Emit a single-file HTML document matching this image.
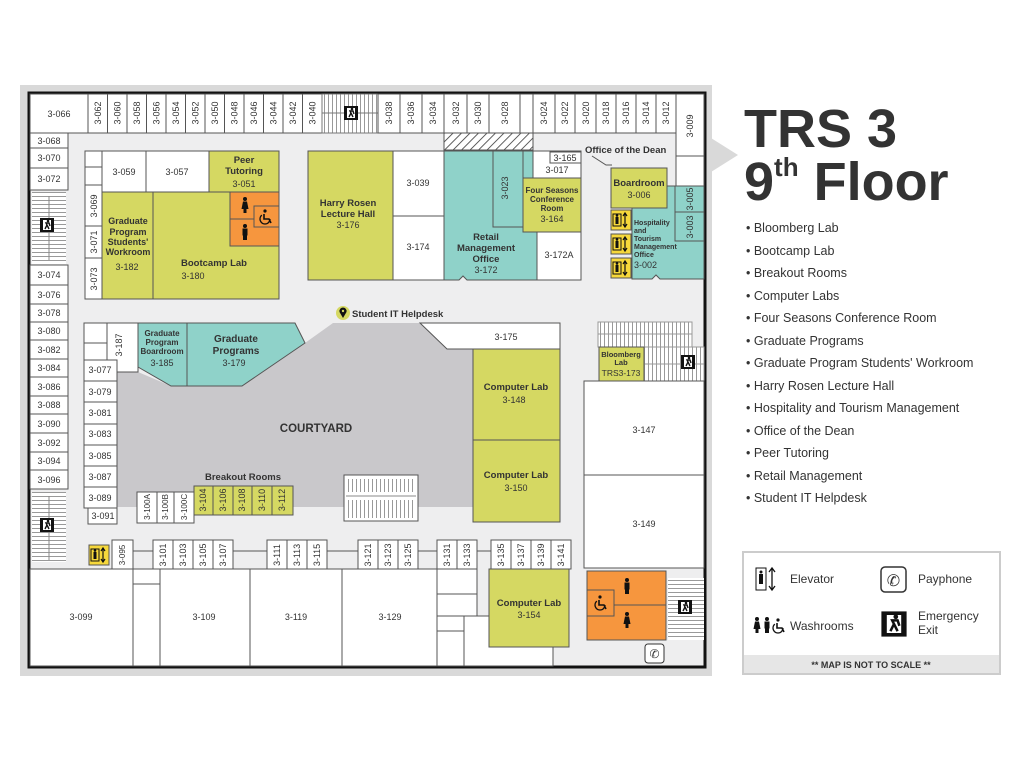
<!DOCTYPE html>
<html><head><meta charset="utf-8"><style>
html,body{margin:0;padding:0;background:#fff;}
svg{display:block;font-family:"Liberation Sans",Arial,sans-serif;}
.r{stroke:#555;stroke-width:1;}
.w{fill:#fff;}.g{fill:#d5d862;}.t{fill:#8fd2c9;}.o{fill:#f6963e;}.y{fill:#f6d83b;}
text{fill:#333;}
.n{font-size:9px;}
.b{font-weight:bold;font-size:9.5px;}
.li{font-size:12.5px;fill:#333;}
</style></head><body>
<svg width="1024" height="768" viewBox="0 0 1024 768" xmlns="http://www.w3.org/2000/svg">
<defs>
<pattern id="hs" width="6" height="4" patternUnits="userSpaceOnUse"><rect width="6" height="4" fill="#fff"/><line x1="0" y1="0.5" x2="6" y2="0.5" stroke="#999" stroke-width="1"/></pattern>
<pattern id="vs" width="4" height="6" patternUnits="userSpaceOnUse"><rect width="4" height="6" fill="#fff"/><line x1="0.5" y1="0" x2="0.5" y2="6" stroke="#999" stroke-width="1"/></pattern>
<pattern id="hatch" width="6" height="6" patternUnits="userSpaceOnUse" patternTransform="rotate(45)"><rect width="6" height="6" fill="#fff"/><line x1="0" y1="0" x2="0" y2="6" stroke="#333" stroke-width="1.6"/></pattern>
<g id="exit"><rect x="-7" y="-7" width="14" height="14" fill="#111"/><rect x="-4" y="-5" width="8" height="10" fill="#fff"/><path d="M-2 4 L0 0 L-1 -2 L2 -2 L3 1 M0 0 L2 4" stroke="#111" stroke-width="1.4" fill="none"/><circle cx="1" cy="-4" r="1.3" fill="#111"/></g>
<g id="elev"><rect x="-10" y="-10" width="20" height="20" fill="#f6d83b" stroke="#555"/><rect x="-8" y="-6" width="8" height="12" fill="none" stroke="#111"/><rect x="-5.5" y="-3" width="3" height="7" fill="#111"/><circle cx="-4" cy="-4.5" r="1.3" fill="#111"/><path d="M4 -7 V7 M2 -4 L4 -7 L6 -4 M2 4 L4 7 L6 4" stroke="#111" fill="none" stroke-width="1.2"/></g>
<g id="man"><circle cx="0" cy="-6" r="2" fill="#111"/><rect x="-2.5" y="-3.5" width="5" height="7" fill="#111"/><rect x="-2" y="3" width="4" height="5" fill="#111"/></g>
<g id="woman"><circle cx="0" cy="-6" r="2" fill="#111"/><path d="M-2 -3.5 H2 L3.5 4 H-3.5 Z" fill="#111"/><rect x="-1.5" y="3" width="3" height="5" fill="#111"/></g>
<g id="wc"><circle cx="-1" cy="-6" r="1.6" fill="#111"/><path d="M-2 -3 V2 H3 L5 6" stroke="#111" stroke-width="1.6" fill="none"/><circle cx="-1" cy="2" r="5" fill="none" stroke="#111" stroke-width="1.3" stroke-dasharray="20 12"/></g>
</defs>

<!-- frame -->
<rect x="20" y="85" width="692" height="591" fill="#d9d9d9"/>
<polygon points="711,138 738,155 711,172" fill="#d9d9d9"/>
<rect x="29" y="93" width="676" height="574" fill="#eeeeef" stroke="#111" stroke-width="3"/>

<!-- top strip -->
<rect class="r w" x="30" y="94" width="58" height="39"/><text class="n" x="59" y="117" text-anchor="middle">3-066</text>
<g class="r w">
<rect x="88" y="94" width="19.5" height="39"/><rect x="107.5" y="94" width="19.5" height="39"/><rect x="127" y="94" width="19.5" height="39"/><rect x="146.5" y="94" width="19.5" height="39"/><rect x="166" y="94" width="19.5" height="39"/><rect x="185.5" y="94" width="19.5" height="39"/><rect x="205" y="94" width="19.5" height="39"/><rect x="224.5" y="94" width="19.5" height="39"/><rect x="244" y="94" width="19.5" height="39"/><rect x="263.5" y="94" width="19.5" height="39"/><rect x="283" y="94" width="19.5" height="39"/><rect x="302.5" y="94" width="19.5" height="39"/>
</g>
<g class="n" text-anchor="middle">
<text transform="translate(101,113) rotate(-90)">3-062</text><text transform="translate(120.5,113) rotate(-90)">3-060</text><text transform="translate(140,113) rotate(-90)">3-058</text><text transform="translate(159.5,113) rotate(-90)">3-056</text><text transform="translate(179,113) rotate(-90)">3-054</text><text transform="translate(198.5,113) rotate(-90)">3-052</text><text transform="translate(218,113) rotate(-90)">3-050</text><text transform="translate(237.5,113) rotate(-90)">3-048</text><text transform="translate(257,113) rotate(-90)">3-046</text><text transform="translate(276.5,113) rotate(-90)">3-044</text><text transform="translate(296,113) rotate(-90)">3-042</text><text transform="translate(315.5,113) rotate(-90)">3-040</text>
</g>
<rect x="322" y="94" width="56" height="39" fill="url(#vs)" stroke="#777"/>
<line x1="322" y1="113" x2="378" y2="113" stroke="#777"/>
<use href="#exit" x="351" y="113"/>
<g class="r w">
<rect x="378" y="94" width="22" height="39"/><rect x="400" y="94" width="22" height="39"/><rect x="422" y="94" width="22" height="39"/><rect x="444" y="94" width="23" height="39"/><rect x="467" y="94" width="22" height="39"/><rect x="489" y="94" width="31" height="39"/><rect x="520" y="94" width="13" height="39"/><rect x="533" y="94" width="22" height="39"/><rect x="555" y="94" width="20" height="39"/><rect x="575" y="94" width="21" height="39"/><rect x="596" y="94" width="20" height="39"/><rect x="616" y="94" width="20" height="39"/><rect x="636" y="94" width="20" height="39"/><rect x="656" y="94" width="20" height="39"/><rect x="676" y="94" width="28" height="62"/>
</g>
<g class="n" text-anchor="middle">
<text transform="translate(392,113) rotate(-90)">3-038</text><text transform="translate(414,113) rotate(-90)">3-036</text><text transform="translate(436,113) rotate(-90)">3-034</text><text transform="translate(459,113) rotate(-90)">3-032</text><text transform="translate(481,113) rotate(-90)">3-030</text><text transform="translate(508,113) rotate(-90)">3-028</text><text transform="translate(547,113) rotate(-90)">3-024</text><text transform="translate(568,113) rotate(-90)">3-022</text><text transform="translate(589,113) rotate(-90)">3-020</text><text transform="translate(609,113) rotate(-90)">3-018</text><text transform="translate(629,113) rotate(-90)">3-016</text><text transform="translate(649,113) rotate(-90)">3-014</text><text transform="translate(669,113) rotate(-90)">3-012</text><text transform="translate(693,126) rotate(-90)">3-009</text>
</g>
<rect x="444" y="133" width="89" height="17" fill="url(#hatch)" stroke="#555"/>

<!-- left column -->
<g class="r w">
<rect x="30" y="133" width="38" height="15"/><rect x="30" y="148" width="38" height="20"/><rect x="30" y="168" width="38" height="22"/>
<rect x="30" y="265" width="38" height="20"/><rect x="30" y="285" width="38" height="19"/><rect x="30" y="304" width="38" height="18"/><rect x="30" y="322" width="38" height="18"/><rect x="30" y="340" width="38" height="19"/><rect x="30" y="359" width="38" height="18"/><rect x="30" y="377" width="38" height="19"/><rect x="30" y="396" width="38" height="18"/><rect x="30" y="414" width="38" height="19"/><rect x="30" y="433" width="38" height="19"/><rect x="30" y="452" width="38" height="18"/><rect x="30" y="470" width="38" height="19"/>
</g>
<g class="n" text-anchor="middle">
<text x="49" y="144">3-068</text><text x="49" y="161">3-070</text><text x="49" y="182">3-072</text><text x="49" y="278">3-074</text><text x="49" y="298">3-076</text><text x="49" y="316">3-078</text><text x="49" y="334">3-080</text><text x="49" y="353">3-082</text><text x="49" y="371">3-084</text><text x="49" y="390">3-086</text><text x="49" y="408">3-088</text><text x="49" y="427">3-090</text><text x="49" y="446">3-092</text><text x="49" y="464">3-094</text><text x="49" y="483">3-096</text>
</g>
<rect x="32" y="192" width="34" height="72" fill="url(#hs)"/><line x1="49" y1="196" x2="49" y2="260" stroke="#888"/>
<use href="#exit" x="47" y="225"/>
<rect x="32" y="492" width="34" height="70" fill="url(#hs)"/><line x1="49" y1="496" x2="49" y2="560" stroke="#888"/>
<use href="#exit" x="47" y="525"/>

<!-- block top-left -->
<g class="r">
<rect class="w" x="85" y="151" width="17" height="16"/><rect class="w" x="85" y="167" width="17" height="18"/>
<rect class="w" x="85" y="185" width="17" height="41"/><rect class="w" x="85" y="226" width="17" height="32"/><rect class="w" x="85" y="258" width="17" height="41"/>
<rect class="w" x="102" y="151" width="44" height="41"/><rect class="w" x="146" y="151" width="63" height="41"/>
<rect class="g" x="209" y="151" width="70" height="41"/>
<rect class="g" x="102" y="192" width="51" height="107"/><rect class="g" x="153" y="192" width="126" height="107"/>
<rect class="o" x="230" y="192" width="49" height="27"/><rect class="o" x="230" y="219" width="49" height="27"/><rect class="o" x="254" y="206" width="25" height="21"/>
</g>
<use href="#woman" x="245" y="205"/><use href="#man" x="245" y="232"/><use href="#wc" x="266" y="217"/>
<g class="n" text-anchor="middle">
<text transform="translate(97,206) rotate(-90)">3-069</text><text transform="translate(97,242) rotate(-90)">3-071</text><text transform="translate(97,279) rotate(-90)">3-073</text>
<text x="124" y="175">3-059</text><text x="177" y="175">3-057</text><text x="244" y="187">3-051</text><text x="127" y="270">3-182</text><text x="193" y="279">3-180</text>
</g>
<g class="b" text-anchor="middle">
<text x="244" y="163">Peer</text><text x="244" y="174">Tutoring</text>
<text x="128" y="224" font-size="9">Graduate</text><text x="128" y="235" font-size="9">Program</text><text x="128" y="245" font-size="9">Students'</text><text x="128" y="255" font-size="9">Workroom</text>
<text x="214" y="266">Bootcamp Lab</text>
</g>

<!-- Harry Rosen area -->
<g class="r">
<rect class="g" x="308" y="151" width="85" height="129"/>
<rect class="w" x="393" y="151" width="51" height="65"/><rect class="w" x="393" y="216" width="51" height="64"/>
<polygon class="t" points="444,151 537,151 537,280 467,280 463,276 459,280 444,280"/>
<rect class="t" x="493" y="151" width="30" height="76"/>
<rect class="w" x="533" y="151" width="48" height="27"/>
<rect class="w" x="550" y="152" width="31" height="11"/>
<rect class="g" x="523" y="178" width="58" height="54"/>
<rect class="w" x="537" y="232" width="44" height="48"/>
</g>
<g class="b" text-anchor="middle">
<text x="348" y="206">Harry Rosen</text><text x="348" y="217">Lecture Hall</text>
<text x="486" y="240">Retail</text><text x="486" y="251">Management</text><text x="486" y="262">Office</text>
<text x="552" y="193" font-size="8">Four Seasons</text><text x="552" y="202" font-size="8">Conference</text><text x="552" y="211" font-size="8">Room</text>
</g>
<g class="n" text-anchor="middle">
<text x="348" y="228">3-176</text><text x="418" y="186">3-039</text><text x="418" y="250">3-174</text><text x="486" y="273">3-172</text><text x="552" y="222">3-164</text><text x="559" y="258">3-172A</text><text x="557" y="173">3-017</text><text x="565" y="161">3-165</text>
<text transform="translate(508,188) rotate(-90)">3-023</text>
</g>
<text x="585" y="153" class="b" font-size="10">Office of the Dean</text>
<path d="M592 156 L606 165 L612 165" stroke="#555" fill="none"/>

<!-- Hospitality -->
<g class="r">
<rect class="w" x="676" y="156" width="28" height="30"/>
<polygon class="t" points="632,208 667,208 667,186 704,186 704,279 660,279 656,275 652,279 632,279"/>
<rect class="t" x="675" y="186" width="29" height="26"/><rect class="t" x="675" y="212" width="29" height="29"/>
<rect class="g" x="611" y="168" width="56" height="40"/>
</g>
<use href="#elev" x="621" y="220"/><use href="#elev" x="621" y="244"/><use href="#elev" x="621" y="268"/>
<g class="b" text-anchor="middle"><text x="639" y="186">Boardroom</text></g>
<g class="n" text-anchor="middle"><text x="639" y="198">3-006</text>
<text transform="translate(693,199) rotate(-90)">3-005</text><text transform="translate(693,227) rotate(-90)">3-003</text></g>
<g font-size="7" font-weight="bold" fill="#333"><text x="634" y="225">Hospitality</text><text x="634" y="233">and</text><text x="634" y="241">Tourism</text><text x="634" y="249">Management</text><text x="634" y="257">Office</text></g>
<text x="634" y="268" class="n">3-002</text>

<!-- helpdesk -->
<circle cx="343" cy="313" r="7" fill="#d5d862"/>
<path d="M343 318 L339.5 312 A3.6 3.6 0 1 1 346.5 312 Z" fill="#111"/><circle cx="343" cy="311" r="1.2" fill="#d5d862"/>
<text x="352" y="317" class="b" font-size="10">Student IT Helpdesk</text>

<!-- courtyard -->
<polygon points="117,372 138,372 171,386 242,386 305,343 333,323 420,323 447,349 473,349 473,507 117,507" fill="#c9c8cb"/>
<rect x="344" y="475" width="74" height="46" fill="#fff" stroke="#555"/>
<rect x="348" y="479" width="66" height="13" fill="url(#vs)"/><rect x="348" y="500" width="66" height="18" fill="url(#vs)"/><line x1="346" y1="496" x2="416" y2="496" stroke="#888"/>
<text x="316" y="432" font-weight="bold" font-size="11.5" text-anchor="middle" fill="#333">COURTYARD</text>
<g class="r">
<polygon class="t" points="138,323 187,323 187,386 171,386 138,367"/>
<polygon class="t" points="187,323 295,323 305,343 242,386 187,386"/>
<rect class="w" x="107" y="323" width="31" height="49"/><rect class="w" x="84" y="323" width="23" height="20"/><rect class="w" x="84" y="343" width="23" height="17"/>
<rect class="w" x="84" y="360" width="33" height="21"/><rect class="w" x="84" y="381" width="33" height="21"/><rect class="w" x="84" y="402" width="33" height="22"/><rect class="w" x="84" y="424" width="33" height="21"/><rect class="w" x="84" y="445" width="33" height="21"/><rect class="w" x="84" y="466" width="33" height="21"/><rect class="w" x="84" y="487" width="33" height="21"/><rect class="w" x="88" y="508" width="29" height="16"/>
<rect class="w" x="137" y="492" width="20" height="31"/><rect class="w" x="157" y="492" width="17" height="31"/><rect class="w" x="174" y="492" width="20" height="31"/>
<rect class="g" x="194" y="486" width="19" height="29"/><rect class="g" x="213" y="486" width="20" height="29"/><rect class="g" x="233" y="486" width="19" height="29"/><rect class="g" x="252" y="486" width="20" height="29"/><rect class="g" x="272" y="486" width="21" height="29"/>
<polygon class="w" points="420,323 560,323 560,349 447,349"/>
<rect class="g" x="473" y="349" width="87" height="91"/><rect class="g" x="473" y="440" width="87" height="82"/>
</g>
<g class="b" text-anchor="middle">
<text x="162" y="336" font-size="8">Graduate</text><text x="162" y="345" font-size="8">Program</text><text x="162" y="354" font-size="8">Boardroom</text>
<text x="236" y="342" font-size="10">Graduate</text><text x="236" y="354" font-size="10">Programs</text>
<text x="243" y="480">Breakout Rooms</text>
<text x="516" y="390">Computer Lab</text><text x="516" y="478">Computer Lab</text>
</g>
<g class="n" text-anchor="middle">
<text x="162" y="366">3-185</text><text x="234" y="366">3-179</text>
<text transform="translate(122,345) rotate(-90)">3-187</text>
<text x="100" y="373">3-077</text><text x="100" y="395">3-079</text><text x="100" y="416">3-081</text><text x="100" y="437">3-083</text><text x="100" y="459">3-085</text><text x="100" y="480">3-087</text><text x="100" y="501">3-089</text><text x="103" y="519">3-091</text>
<text transform="translate(150,507) rotate(-90)" font-size="8">3-100A</text><text transform="translate(168,507) rotate(-90)" font-size="8">3-100B</text><text transform="translate(187,507) rotate(-90)" font-size="8">3-100C</text>
<text transform="translate(206,500) rotate(-90)">3-104</text><text transform="translate(226,500) rotate(-90)">3-106</text><text transform="translate(245,500) rotate(-90)">3-108</text><text transform="translate(265,500) rotate(-90)">3-110</text><text transform="translate(285,500) rotate(-90)">3-112</text>
<text x="506" y="340">3-175</text><text x="514" y="403">3-148</text><text x="516" y="491">3-150</text>
</g>

<!-- right middle -->
<rect x="598" y="322" width="94" height="25" fill="url(#vs)" stroke="#999"/><line x1="598" y1="334" x2="692" y2="334" stroke="#999"/>
<rect x="644" y="347" width="60" height="34" fill="url(#vs)" stroke="#999"/><line x1="644" y1="364" x2="704" y2="364" stroke="#999"/>
<use href="#exit" x="688" y="362"/>
<g class="r">
<rect class="g" x="599" y="347" width="45" height="34"/>
<rect class="w" x="584" y="381" width="120" height="94"/><rect class="w" x="584" y="475" width="120" height="93"/>
</g>
<g text-anchor="middle"><text x="621" y="357" font-weight="bold" font-size="7.5">Bloomberg</text><text x="621" y="365" font-weight="bold" font-size="7.5">Lab</text><text x="621" y="376" font-size="8.5">TRS3-173</text>
<text x="644" y="433" class="n">3-147</text><text x="644" y="527" class="n">3-149</text></g>

<!-- bottom -->
<line x1="133" y1="551" x2="491" y2="551" stroke="#555"/>
<g class="r">
<rect class="w" x="112" y="540" width="21" height="29"/>
<rect class="w" x="153" y="540" width="20" height="29"/><rect class="w" x="173" y="540" width="20" height="29"/><rect class="w" x="193" y="540" width="20" height="29"/><rect class="w" x="213" y="540" width="20" height="29"/>
<rect class="w" x="267" y="540" width="20" height="29"/><rect class="w" x="287" y="540" width="20" height="29"/><rect class="w" x="307" y="540" width="20" height="29"/>
<rect class="w" x="358" y="540" width="20" height="29"/><rect class="w" x="378" y="540" width="20" height="29"/><rect class="w" x="398" y="540" width="20" height="29"/>
<rect class="w" x="437" y="540" width="20" height="29"/><rect class="w" x="457" y="540" width="20" height="29"/>
<rect class="w" x="491" y="540" width="20" height="29"/><rect class="w" x="511" y="540" width="20" height="29"/><rect class="w" x="531" y="540" width="20" height="29"/><rect class="w" x="551" y="540" width="20" height="29"/>
<rect class="w" x="30" y="569" width="103" height="97"/>
<rect class="w" x="133" y="569" width="27" height="15"/><rect class="w" x="133" y="584" width="27" height="82"/>
<rect class="w" x="160" y="569" width="90" height="97"/><rect class="w" x="250" y="569" width="92" height="97"/><rect class="w" x="342" y="569" width="95" height="97"/>
<rect class="w" x="437" y="569" width="40" height="25"/><rect class="w" x="437" y="594" width="40" height="22"/><rect class="w" x="437" y="616" width="27" height="15"/><rect class="w" x="437" y="631" width="27" height="35"/>
<rect class="w" x="464" y="616" width="89" height="50"/>
<rect class="g" x="489" y="569" width="80" height="78"/>
<rect class="o" x="587" y="571" width="79" height="34"/><rect class="o" x="587" y="605" width="79" height="35"/><rect class="o" x="587" y="590" width="27" height="26"/>
</g>
<use href="#elev" x="99" y="555"/>
<rect x="668" y="578" width="36" height="62" fill="url(#hs)"/><use href="#exit" x="685" y="607"/>
<use href="#man" x="627" y="586"/><use href="#woman" x="627" y="620"/><use href="#wc" x="601" y="603"/>
<rect x="645" y="644" width="19" height="19" rx="3" fill="#fff" stroke="#333"/><text x="654.5" y="658" font-size="12" text-anchor="middle" fill="#111">✆</text>
<g class="n" text-anchor="middle">
<text transform="translate(125,555) rotate(-90)" font-size="8">3-095</text>
<text transform="translate(166,555) rotate(-90)">3-101</text><text transform="translate(186,555) rotate(-90)">3-103</text><text transform="translate(206,555) rotate(-90)">3-105</text><text transform="translate(226,555) rotate(-90)">3-107</text>
<text transform="translate(280,555) rotate(-90)">3-111</text><text transform="translate(300,555) rotate(-90)">3-113</text><text transform="translate(320,555) rotate(-90)">3-115</text>
<text transform="translate(371,555) rotate(-90)">3-121</text><text transform="translate(391,555) rotate(-90)">3-123</text><text transform="translate(411,555) rotate(-90)">3-125</text>
<text transform="translate(450,555) rotate(-90)">3-131</text><text transform="translate(470,555) rotate(-90)">3-133</text>
<text transform="translate(504,555) rotate(-90)">3-135</text><text transform="translate(524,555) rotate(-90)">3-137</text><text transform="translate(544,555) rotate(-90)">3-139</text><text transform="translate(564,555) rotate(-90)">3-141</text>
<text x="81" y="620">3-099</text><text x="204" y="620">3-109</text><text x="296" y="620">3-119</text><text x="390" y="620">3-129</text><text x="529" y="618">3-154</text>
</g>
<text x="529" y="606" class="b" text-anchor="middle">Computer Lab</text>

<!-- title -->
<text x="744" y="147" font-size="54" font-weight="bold" fill="#1a1a1a">TRS 3</text>
<text x="744" y="200" font-size="54" font-weight="bold" fill="#1a1a1a">9<tspan font-size="26" dy="-24">th</tspan><tspan dy="24"> Floor</tspan></text>
<g class="li">
<text x="746" y="232">•  Bloomberg Lab</text>
<text x="746" y="255">•  Bootcamp Lab</text>
<text x="746" y="277">•  Breakout Rooms</text>
<text x="746" y="300">•  Computer Labs</text>
<text x="746" y="322">•  Four Seasons Conference Room</text>
<text x="746" y="345">•  Graduate Programs</text>
<text x="746" y="367">•  Graduate Program Students' Workroom</text>
<text x="746" y="390">•  Harry Rosen Lecture Hall</text>
<text x="746" y="412">•  Hospitality and Tourism Management</text>
<text x="746" y="435">•  Office of the Dean</text>
<text x="746" y="457">•  Peer Tutoring</text>
<text x="746" y="480">•  Retail Management</text>
<text x="746" y="502">•  Student IT Helpdesk</text>
</g>

<!-- legend -->
<rect x="743" y="552" width="257" height="122" fill="#fff" stroke="#ccc" stroke-width="2"/>
<rect x="744" y="655" width="255" height="18" fill="#e6e6e6"/>
<text x="871" y="668" font-size="9" font-weight="bold" text-anchor="middle" fill="#333">** MAP IS NOT TO SCALE **</text>
<rect x="756" y="568" width="10" height="22" fill="#fff" stroke="#111"/><rect x="759" y="574" width="4" height="10" fill="#111"/><circle cx="761" cy="572" r="1.5" fill="#111"/>
<path d="M772 568 V590 M769 572 L772 568 L775 572 M769 586 L772 590 L775 586" stroke="#111" fill="none" stroke-width="1.3"/>
<text x="790" y="583" font-size="12" fill="#333">Elevator</text>
<rect x="881" y="567" width="25" height="25" rx="4" fill="#fff" stroke="#333" stroke-width="1.5"/><text x="893.5" y="586" font-size="16" text-anchor="middle" fill="#111">✆</text>
<text x="918" y="583" font-size="12" fill="#333">Payphone</text>
<use href="#woman" x="757" y="625"/><use href="#man" x="767" y="625"/><use href="#wc" x="779" y="626"/>
<text x="790" y="630" font-size="12" fill="#333">Washrooms</text>
<g transform="translate(894,624) scale(1.8)"><use href="#exit"/></g>
<text x="918" y="620" font-size="12" fill="#333">Emergency</text><text x="918" y="634" font-size="12" fill="#333">Exit</text>
</svg>
</body></html>
